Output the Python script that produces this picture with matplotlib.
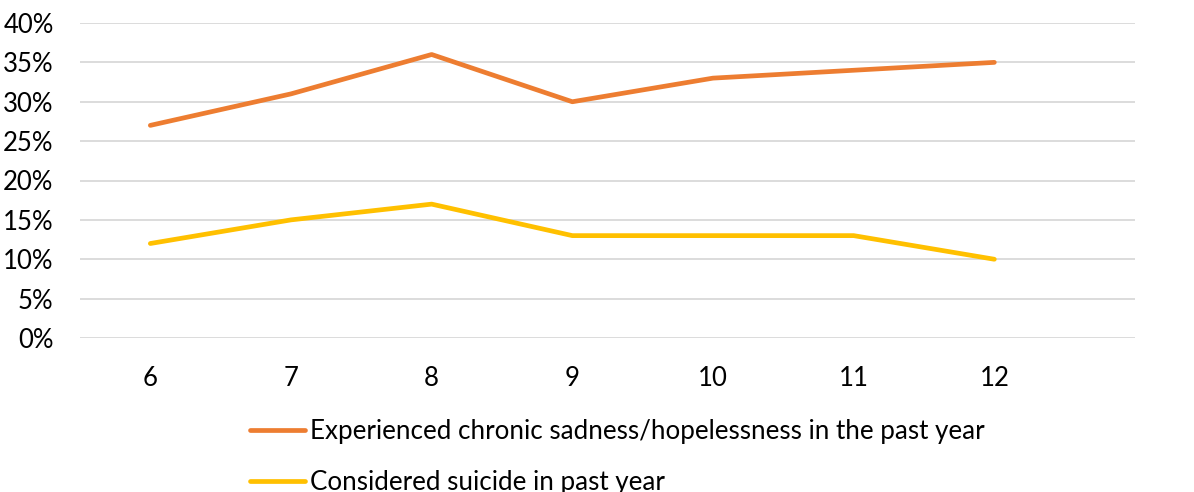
import matplotlib.pyplot as plt
from matplotlib.ticker import PercentFormatter

# Data
grades = ["6", "7", "8", "9", "10", "11", "12"]
sadness = [27, 31, 36, 30, 33, 34, 35]
suicide = [12, 15, 17, 13, 13, 13, 10]

plt.rcParams["font.family"] = ["Lato", "DejaVu Sans"]

fig = plt.figure(figsize=(11.94, 4.92), dpi=100)
ax = fig.add_axes([80 / 1194, 1 - 338 / 492, (1135 - 80) / 1194, (338 - 23) / 492])

x = range(len(grades))
ax.plot(x, sadness, color="#ED7D31", lw=3.4, solid_capstyle="round",
        label="Experienced chronic sadness/hopelessness in the past year")
ax.plot(x, suicide, color="#FFC000", lw=3.4, solid_capstyle="round",
        label="Considered suicide in past year")

ax.set_xlim(-0.5, 7.0)
ax.set_ylim(0, 40)
ax.set_yticks(range(0, 41, 5))
ax.yaxis.set_major_formatter(PercentFormatter(decimals=0))
ax.set_xticks(list(x))
ax.set_xticklabels(grades)
ax.tick_params(length=0, labelsize=18.5, colors="black")
ax.tick_params(axis="x", pad=20)
ax.tick_params(axis="y", pad=19)
ax.grid(axis="y", color="#d9d9d9", lw=1.3)
ax.set_axisbelow(True)
for s in ax.spines.values():
    s.set_visible(False)

fig.legend(loc="upper left", bbox_to_anchor=(250 / 1194, 1 - 419 / 492),
           frameon=False, fontsize=18.7, handlelength=2.1, handletextpad=0.2,
           labelspacing=1.0, borderaxespad=0, borderpad=0)

fig.savefig("out.png", dpi=100)
